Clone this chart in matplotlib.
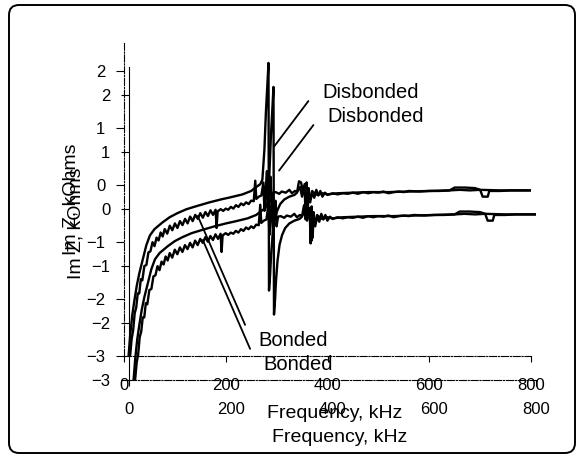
import numpy as np
import matplotlib.pyplot as plt
from matplotlib.patches import FancyBboxPatch
from matplotlib.transforms import IdentityTransform

plt.rcParams['font.family'] = ['Liberation Sans', 'DejaVu Sans']

# disbonded sample: smooth rise, resonance spike near 285 kHz
freq_dis = [9, 12, 16, 20, 25, 30, 37, 44, 51, 60, 76, 90, 105, 123, 145, 168, 190,
            210, 233, 250, 260, 268, 272, 276, 279, 282, 284, 285, 287, 289, 292, 296,
            301, 307, 315, 325, 335, 340, 344, 348, 352, 357, 359, 362, 366, 372, 380,
            390, 400, 420, 450, 480, 520, 560, 600, 640, 650, 670, 690, 700, 740, 770, 800]
im_dis = [-3.0, -2.65, -2.3, -2.05, -1.77, -1.55, -1.3, -1.05, -0.88, -0.77, -0.65, -0.56,
          -0.49, -0.42, -0.36, -0.3, -0.25, -0.21, -0.16, -0.1, -0.03, 0.02, 0.1, 0.63,
          1.3, 1.8, 2.15, -1.85, -1.6, -1.25, -0.9, -0.62, -0.45, -0.33, -0.25, -0.2,
          -0.17, -0.13, 0.07, 0.05, -0.12, 0.03, -0.55, -0.1, -0.25, -0.12, -0.17,
          -0.14, -0.16, -0.14, -0.13, -0.12, -0.12, -0.11, -0.1, -0.09, -0.04, -0.04,
          -0.05, -0.08, -0.09, -0.09, -0.09]

# bonded sample: noisy, no resonance
freq_bon = [12, 15, 18, 21, 24, 27, 30, 33, 36, 40, 44, 48, 52, 56, 60, 64, 68, 72, 76,
            80, 85, 90, 95, 100, 105, 110, 115, 120, 125, 130, 135, 140, 145, 150, 155,
            160, 165, 170, 175, 180, 182, 184, 190, 195, 200, 205, 210, 215, 220, 225,
            230, 235, 240, 245, 250, 255, 258, 260, 265, 270, 274, 276, 278, 281, 283,
            285, 288, 290, 293, 298, 305, 310, 318, 325, 330, 336, 340, 346, 350, 355,
            357, 359, 361, 363, 366, 370, 374, 378, 382, 386, 390, 395, 400, 410, 420,
            430, 440, 450, 460, 470, 480, 490, 500, 510, 520, 530, 540, 550, 560, 580,
            600, 620, 640, 660, 680, 700, 705, 715, 718, 740, 760, 780, 800]
im_bon = [-3.0, -2.7, -2.55, -2.25, -2.15, -1.9, -1.9, -1.65, -1.67, -1.42, -1.4, -1.18,
          -1.16, -1.0, -1.07, -0.92, -0.97, -0.83, -0.9, -0.77, -0.85, -0.71, -0.79,
          -0.67, -0.75, -0.63, -0.7, -0.59, -0.67, -0.55, -0.63, -0.52, -0.59, -0.49,
          -0.57, -0.47, -0.54, -0.44, -0.52, -0.43, -0.75, -0.46, -0.42, -0.45, -0.41,
          -0.43, -0.38, -0.41, -0.35, -0.38, -0.32, -0.35, -0.3, -0.33, -0.27, -0.28,
          0.08, -0.24, -0.2, -0.18, 0.05, -0.45, -0.15, 0.25, -0.55, -0.12, 0.15, -0.3,
          -0.13, -0.12, -0.15, -0.11, -0.13, -0.08, -0.14, -0.1, -0.12, -0.03, -0.2,
          0.02, -0.6, 0.05, -0.5, -0.05, -0.3, -0.1, -0.22, -0.08, -0.18, -0.1, -0.2,
          -0.13, -0.17, -0.14, -0.16, -0.14, -0.15, -0.13, -0.15, -0.12, -0.14, -0.12,
          -0.13, -0.11, -0.14, -0.12, -0.11, -0.12, -0.1, -0.11, -0.1, -0.1, -0.09,
          -0.08, -0.09, -0.08, -0.2, -0.2, -0.1, -0.1, -0.09, -0.09, -0.09]

xticks = [0, 200, 400, 600, 800]
yticks = [-3, -2, -1, 0, 1, 2]


def draw(ax, left_ls):
    ax.set_facecolor('none')
    ax.plot(freq_bon, im_bon, color='black', lw=1.7)
    ax.plot(freq_dis, im_dis, color='black', lw=1.7)
    ax.set_xlim(0, 800)
    ax.set_ylim(-3, 2.5)
    ax.set_xticks(xticks)
    ax.set_yticks(yticks)
    for s in ['top', 'right']:
        ax.spines[s].set_visible(False)
    ax.spines['bottom'].set_linestyle('-.')
    ax.spines['left'].set_linestyle(left_ls)
    ax.spines['bottom'].set_linewidth(0.8)
    ax.spines['left'].set_linewidth(0.8)
    ax.tick_params(axis='x', direction='out', length=4.5, width=0.8, pad=11, labelsize=12)
    ax.tick_params(axis='y', direction='out', length=5.5, width=0.8, pad=8, labelsize=12)
    ax.set_xlabel('Frequency, kHz', fontsize=14)
    ax.set_ylabel('Im Z, kOhms', fontsize=14)
    ax.xaxis.set_label_coords(0.518, -0.155)
    ax.yaxis.set_label_coords(-0.11, 0.5)
    ax.annotate('Disbonded', xy=(295, 0.68), xytext=(389, 1.63), fontsize=14.5,
                ha='left', va='center',
                arrowprops=dict(arrowstyle='-', color='black', lw=1.3,
                                relpos=(-0.14, 0.05), shrinkA=0, shrinkB=0))
    ax.annotate('Bonded', xy=(145, -0.54), xytext=(264, -2.72), fontsize=14.5,
                ha='left', va='center',
                arrowprops=dict(arrowstyle='-', color='black', lw=1.3,
                                relpos=(-0.19, 1.3), shrinkA=0, shrinkB=0))


fig = plt.figure(figsize=(5.78, 4.57), dpi=100)

# the scanned figure shows the chart printed twice, slightly offset
ax2 = fig.add_axes([129 / 578, 77 / 457, 407 / 578, 313 / 457])
draw(ax2, '-')
ax1 = fig.add_axes([124 / 578, 101 / 457, 407 / 578, 313 / 457])
draw(ax1, '-.')

frame = FancyBboxPatch((9, 4), 566, 448, boxstyle='round,pad=0,rounding_size=10',
                       transform=IdentityTransform(), fill=False, lw=1.4, ec='black')
fig.patches.append(frame)

fig.savefig('out.png', dpi=100)
